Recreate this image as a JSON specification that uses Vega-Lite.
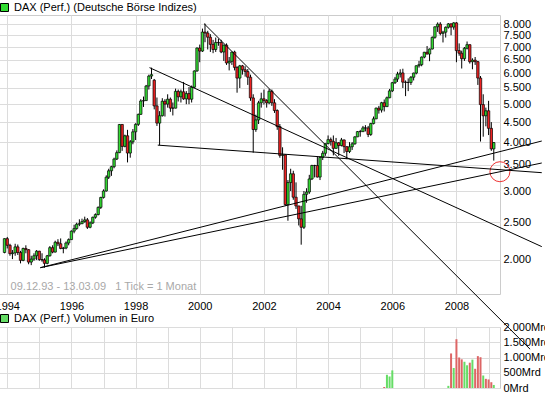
{
  "$schema": "https://vega.github.io/schema/vega-lite/v6.json",
  "padding": {"left": -6, "top": 1, "right": 0, "bottom": 0},
  "spacing": 33,
  "bounds": "flush",
  "config": {
    "font": "Liberation Sans",
    "view": {"stroke": "#cccccc", "strokeWidth": 1, "fill": null},
    "axis": {"gridColor": "#dcdcdc", "gridWidth": 1, "labelFont": "Liberation Sans", "labelFontSize": 11, "labelColor": "#000000", "ticks": false, "tickSize": 0, "domain": false, "labelOverlap": false},
    "legend": {"labelFont": "Liberation Sans", "labelFontSize": 11, "labelColor": "#000000", "labelLimit": 400}
  },
  "datasets": {
    "candles": [
      {"d":"1993-12-01","o":2090,"h":2270,"l":2080,"c":2267,"k":"up"},
      {"d":"1994-01-01","o":2267,"h":2290,"l":2140,"c":2180,"k":"down"},
      {"d":"1994-02-01","o":2180,"h":2200,"l":2050,"c":2075,"k":"down"},
      {"d":"1994-03-01","o":2075,"h":2120,"l":2010,"c":2085,"k":"up"},
      {"d":"1994-04-01","o":2085,"h":2200,"l":2050,"c":2160,"k":"up"},
      {"d":"1994-05-01","o":2160,"h":2190,"l":2060,"c":2090,"k":"down"},
      {"d":"1994-06-01","o":2090,"h":2110,"l":1960,"c":1995,"k":"down"},
      {"d":"1994-07-01","o":1995,"h":2150,"l":1985,"c":2140,"k":"up"},
      {"d":"1994-08-01","o":2140,"h":2180,"l":2080,"c":2125,"k":"down"},
      {"d":"1994-09-01","o":2125,"h":2130,"l":1950,"c":1975,"k":"down"},
      {"d":"1994-10-01","o":1975,"h":2050,"l":1940,"c":2010,"k":"up"},
      {"d":"1994-11-01","o":2010,"h":2080,"l":1990,"c":2050,"k":"up"},
      {"d":"1994-12-01","o":2050,"h":2120,"l":2000,"c":2106,"k":"up"},
      {"d":"1995-01-01","o":2106,"h":2110,"l":1990,"c":2005,"k":"down"},
      {"d":"1995-02-01","o":2005,"h":2080,"l":1980,"c":2000,"k":"down"},
      {"d":"1995-03-01","o":2000,"h":2020,"l":1911,"c":1960,"k":"down"},
      {"d":"1995-04-01","o":1960,"h":2060,"l":1950,"c":2050,"k":"up"},
      {"d":"1995-05-01","o":2050,"h":2170,"l":2040,"c":2150,"k":"up"},
      {"d":"1995-06-01","o":2150,"h":2180,"l":2080,"c":2095,"k":"down"},
      {"d":"1995-07-01","o":2095,"h":2240,"l":2090,"c":2220,"k":"up"},
      {"d":"1995-08-01","o":2220,"h":2260,"l":2170,"c":2200,"k":"down"},
      {"d":"1995-09-01","o":2200,"h":2270,"l":2130,"c":2140,"k":"down"},
      {"d":"1995-10-01","o":2140,"h":2160,"l":2080,"c":2145,"k":"up"},
      {"d":"1995-11-01","o":2145,"h":2230,"l":2130,"c":2210,"k":"up"},
      {"d":"1995-12-01","o":2210,"h":2270,"l":2180,"c":2254,"k":"up"},
      {"d":"1996-01-01","o":2254,"h":2380,"l":2250,"c":2369,"k":"up"},
      {"d":"1996-02-01","o":2369,"h":2460,"l":2340,"c":2405,"k":"up"},
      {"d":"1996-03-01","o":2405,"h":2490,"l":2390,"c":2468,"k":"up"},
      {"d":"1996-04-01","o":2468,"h":2540,"l":2440,"c":2475,"k":"up"},
      {"d":"1996-05-01","o":2475,"h":2550,"l":2470,"c":2506,"k":"up"},
      {"d":"1996-06-01","o":2506,"h":2580,"l":2490,"c":2532,"k":"up"},
      {"d":"1996-07-01","o":2532,"h":2560,"l":2400,"c":2424,"k":"down"},
      {"d":"1996-08-01","o":2424,"h":2510,"l":2410,"c":2487,"k":"up"},
      {"d":"1996-09-01","o":2487,"h":2580,"l":2470,"c":2571,"k":"up"},
      {"d":"1996-10-01","o":2571,"h":2630,"l":2550,"c":2612,"k":"up"},
      {"d":"1996-11-01","o":2612,"h":2740,"l":2600,"c":2725,"k":"up"},
      {"d":"1996-12-01","o":2725,"h":2900,"l":2700,"c":2889,"k":"up"},
      {"d":"1997-01-01","o":2889,"h":3030,"l":2870,"c":3001,"k":"up"},
      {"d":"1997-02-01","o":3001,"h":3290,"l":2990,"c":3255,"k":"up"},
      {"d":"1997-03-01","o":3255,"h":3420,"l":3220,"c":3379,"k":"up"},
      {"d":"1997-04-01","o":3379,"h":3480,"l":3280,"c":3462,"k":"up"},
      {"d":"1997-05-01","o":3462,"h":3650,"l":3430,"c":3621,"k":"up"},
      {"d":"1997-06-01","o":3621,"h":3810,"l":3600,"c":3760,"k":"up"},
      {"d":"1997-07-01","o":3760,"h":4450,"l":3750,"c":4438,"k":"up"},
      {"d":"1997-08-01","o":4438,"h":4440,"l":3800,"c":3901,"k":"down"},
      {"d":"1997-09-01","o":3901,"h":4180,"l":3880,"c":4152,"k":"up"},
      {"d":"1997-10-01","o":4152,"h":4300,"l":3550,"c":3751,"k":"down"},
      {"d":"1997-11-01","o":3751,"h":4050,"l":3650,"c":4007,"k":"up"},
      {"d":"1997-12-01","o":4007,"h":4320,"l":3950,"c":4250,"k":"up"},
      {"d":"1998-01-01","o":4250,"h":4470,"l":4050,"c":4441,"k":"up"},
      {"d":"1998-02-01","o":4441,"h":4730,"l":4400,"c":4710,"k":"up"},
      {"d":"1998-03-01","o":4710,"h":5150,"l":4700,"c":5096,"k":"up"},
      {"d":"1998-04-01","o":5096,"h":5230,"l":4920,"c":5107,"k":"up"},
      {"d":"1998-05-01","o":5107,"h":5600,"l":5100,"c":5565,"k":"up"},
      {"d":"1998-06-01","o":5565,"h":5950,"l":5450,"c":5900,"k":"up"},
      {"d":"1998-07-01","o":5900,"h":6200,"l":5800,"c":5950,"k":"up"},
      {"d":"1998-08-01","o":5760,"h":5800,"l":4850,"c":4950,"k":"down"},
      {"d":"1998-09-01","o":4950,"h":5200,"l":4400,"c":4474,"k":"down"},
      {"d":"1998-10-01","o":4474,"h":4800,"l":3930,"c":4672,"k":"up"},
      {"d":"1998-11-01","o":4672,"h":5180,"l":4650,"c":5087,"k":"up"},
      {"d":"1998-12-01","o":5087,"h":5150,"l":4650,"c":5002,"k":"down"},
      {"d":"1999-01-01","o":5002,"h":5300,"l":4900,"c":5150,"k":"up"},
      {"d":"1999-02-01","o":5150,"h":5200,"l":4780,"c":4887,"k":"down"},
      {"d":"1999-03-01","o":4887,"h":5050,"l":4680,"c":4884,"k":"down"},
      {"d":"1999-04-01","o":4884,"h":5480,"l":4880,"c":5393,"k":"up"},
      {"d":"1999-05-01","o":5393,"h":5450,"l":5080,"c":5221,"k":"down"},
      {"d":"1999-06-01","o":5221,"h":5450,"l":5050,"c":5378,"k":"up"},
      {"d":"1999-07-01","o":5378,"h":5700,"l":5130,"c":5159,"k":"down"},
      {"d":"1999-08-01","o":5159,"h":5400,"l":5000,"c":5322,"k":"up"},
      {"d":"1999-09-01","o":5322,"h":5530,"l":5000,"c":5150,"k":"down"},
      {"d":"1999-10-01","o":5150,"h":5580,"l":5050,"c":5525,"k":"up"},
      {"d":"1999-11-01","o":5525,"h":6100,"l":5500,"c":6080,"k":"up"},
      {"d":"1999-12-01","o":6080,"h":6980,"l":6050,"c":6958,"k":"up"},
      {"d":"2000-01-01","o":6958,"h":7100,"l":6400,"c":6835,"k":"down"},
      {"d":"2000-02-01","o":6835,"h":7800,"l":6800,"c":7644,"k":"up"},
      {"d":"2000-03-01","o":7644,"h":8030,"l":7200,"c":7599,"k":"down"},
      {"d":"2000-04-01","o":7599,"h":7700,"l":6900,"c":7415,"k":"down"},
      {"d":"2000-05-01","o":7415,"h":7550,"l":6800,"c":7109,"k":"down"},
      {"d":"2000-06-01","o":7109,"h":7300,"l":6750,"c":6899,"k":"down"},
      {"d":"2000-07-01","o":6899,"h":7400,"l":6800,"c":7190,"k":"up"},
      {"d":"2000-08-01","o":7190,"h":7350,"l":7050,"c":7186,"k":"down"},
      {"d":"2000-09-01","o":7186,"h":7300,"l":6750,"c":6799,"k":"down"},
      {"d":"2000-10-01","o":6799,"h":7100,"l":6450,"c":7078,"k":"up"},
      {"d":"2000-11-01","o":7078,"h":7150,"l":6300,"c":6372,"k":"down"},
      {"d":"2000-12-01","o":6372,"h":6600,"l":6100,"c":6434,"k":"up"},
      {"d":"2001-01-01","o":6434,"h":6800,"l":6300,"c":6795,"k":"up"},
      {"d":"2001-02-01","o":6795,"h":6850,"l":6100,"c":6208,"k":"down"},
      {"d":"2001-03-01","o":6208,"h":6250,"l":5350,"c":5830,"k":"down"},
      {"d":"2001-04-01","o":5830,"h":6300,"l":5500,"c":6265,"k":"up"},
      {"d":"2001-05-01","o":6265,"h":6300,"l":5950,"c":6123,"k":"down"},
      {"d":"2001-06-01","o":6123,"h":6250,"l":5880,"c":6058,"k":"down"},
      {"d":"2001-07-01","o":6058,"h":6150,"l":5600,"c":5861,"k":"down"},
      {"d":"2001-08-01","o":5861,"h":5950,"l":5100,"c":5188,"k":"down"},
      {"d":"2001-09-01","o":5188,"h":5300,"l":3760,"c":4308,"k":"down"},
      {"d":"2001-10-01","o":4308,"h":4700,"l":4250,"c":4559,"k":"up"},
      {"d":"2001-11-01","o":4559,"h":5100,"l":4450,"c":5040,"k":"up"},
      {"d":"2001-12-01","o":5040,"h":5350,"l":4900,"c":5160,"k":"up"},
      {"d":"2002-01-01","o":5160,"h":5450,"l":4990,"c":5107,"k":"down"},
      {"d":"2002-02-01","o":5107,"h":5150,"l":4900,"c":5039,"k":"down"},
      {"d":"2002-03-01","o":5039,"h":5467,"l":5000,"c":5397,"k":"up"},
      {"d":"2002-04-01","o":5397,"h":5450,"l":4950,"c":5041,"k":"down"},
      {"d":"2002-05-01","o":5041,"h":5150,"l":4750,"c":4818,"k":"down"},
      {"d":"2002-06-01","o":4818,"h":4850,"l":4300,"c":4383,"k":"down"},
      {"d":"2002-07-01","o":4383,"h":4450,"l":3650,"c":3700,"k":"down"},
      {"d":"2002-08-01","o":3700,"h":3880,"l":3400,"c":3712,"k":"up"},
      {"d":"2002-09-01","o":3712,"h":3720,"l":2750,"c":2769,"k":"down"},
      {"d":"2002-10-01","o":2769,"h":3200,"l":2519,"c":3153,"k":"up"},
      {"d":"2002-11-01","o":3153,"h":3420,"l":3000,"c":3320,"k":"up"},
      {"d":"2002-12-01","o":3320,"h":3380,"l":2850,"c":2893,"k":"down"},
      {"d":"2003-01-01","o":2893,"h":3157,"l":2700,"c":2748,"k":"down"},
      {"d":"2003-02-01","o":2748,"h":2750,"l":2450,"c":2547,"k":"down"},
      {"d":"2003-03-01","o":2547,"h":2750,"l":2188,"c":2424,"k":"down"},
      {"d":"2003-04-01","o":2424,"h":3000,"l":2400,"c":2942,"k":"up"},
      {"d":"2003-05-01","o":2942,"h":3050,"l":2800,"c":2983,"k":"up"},
      {"d":"2003-06-01","o":2983,"h":3300,"l":2950,"c":3221,"k":"up"},
      {"d":"2003-07-01","o":3221,"h":3500,"l":3200,"c":3487,"k":"up"},
      {"d":"2003-08-01","o":3487,"h":3500,"l":3250,"c":3485,"k":"down"},
      {"d":"2003-09-01","o":3485,"h":3680,"l":3250,"c":3257,"k":"down"},
      {"d":"2003-10-01","o":3257,"h":3680,"l":3200,"c":3655,"k":"up"},
      {"d":"2003-11-01","o":3655,"h":3800,"l":3600,"c":3746,"k":"up"},
      {"d":"2003-12-01","o":3746,"h":3970,"l":3690,"c":3965,"k":"up"},
      {"d":"2004-01-01","o":3965,"h":4160,"l":3950,"c":4059,"k":"up"},
      {"d":"2004-02-01","o":4059,"h":4110,"l":3920,"c":4018,"k":"down"},
      {"d":"2004-03-01","o":4018,"h":4160,"l":3700,"c":3856,"k":"down"},
      {"d":"2004-04-01","o":3856,"h":4100,"l":3850,"c":3985,"k":"up"},
      {"d":"2004-05-01","o":3985,"h":4000,"l":3690,"c":3921,"k":"down"},
      {"d":"2004-06-01","o":3921,"h":4100,"l":3900,"c":4052,"k":"up"},
      {"d":"2004-07-01","o":4052,"h":4060,"l":3750,"c":3895,"k":"down"},
      {"d":"2004-08-01","o":3895,"h":3900,"l":3620,"c":3785,"k":"down"},
      {"d":"2004-09-01","o":3785,"h":4000,"l":3750,"c":3893,"k":"up"},
      {"d":"2004-10-01","o":3893,"h":4000,"l":3820,"c":3960,"k":"up"},
      {"d":"2004-11-01","o":3960,"h":4140,"l":3940,"c":4126,"k":"up"},
      {"d":"2004-12-01","o":4126,"h":4270,"l":4120,"c":4256,"k":"up"},
      {"d":"2005-01-01","o":4256,"h":4300,"l":4130,"c":4254,"k":"down"},
      {"d":"2005-02-01","o":4254,"h":4400,"l":4250,"c":4350,"k":"up"},
      {"d":"2005-03-01","o":4350,"h":4420,"l":4260,"c":4349,"k":"down"},
      {"d":"2005-04-01","o":4349,"h":4400,"l":4120,"c":4185,"k":"down"},
      {"d":"2005-05-01","o":4185,"h":4480,"l":4150,"c":4461,"k":"up"},
      {"d":"2005-06-01","o":4461,"h":4650,"l":4440,"c":4587,"k":"up"},
      {"d":"2005-07-01","o":4587,"h":4900,"l":4580,"c":4886,"k":"up"},
      {"d":"2005-08-01","o":4886,"h":4950,"l":4730,"c":4830,"k":"down"},
      {"d":"2005-09-01","o":4830,"h":5070,"l":4760,"c":5044,"k":"up"},
      {"d":"2005-10-01","o":5044,"h":5140,"l":4790,"c":4929,"k":"down"},
      {"d":"2005-11-01","o":4929,"h":5230,"l":4920,"c":5193,"k":"up"},
      {"d":"2005-12-01","o":5193,"h":5470,"l":5180,"c":5408,"k":"up"},
      {"d":"2006-01-01","o":5408,"h":5700,"l":5370,"c":5674,"k":"up"},
      {"d":"2006-02-01","o":5674,"h":5870,"l":5630,"c":5796,"k":"up"},
      {"d":"2006-03-01","o":5796,"h":6050,"l":5700,"c":5970,"k":"up"},
      {"d":"2006-04-01","o":5970,"h":6140,"l":5850,"c":6009,"k":"up"},
      {"d":"2006-05-01","o":6009,"h":6160,"l":5500,"c":5692,"k":"down"},
      {"d":"2006-06-01","o":5692,"h":5750,"l":5243,"c":5683,"k":"down"},
      {"d":"2006-07-01","o":5683,"h":5820,"l":5400,"c":5682,"k":"down"},
      {"d":"2006-08-01","o":5682,"h":5900,"l":5600,"c":5859,"k":"up"},
      {"d":"2006-09-01","o":5859,"h":6020,"l":5750,"c":6004,"k":"up"},
      {"d":"2006-10-01","o":6004,"h":6280,"l":5960,"c":6269,"k":"up"},
      {"d":"2006-11-01","o":6269,"h":6450,"l":6200,"c":6309,"k":"up"},
      {"d":"2006-12-01","o":6309,"h":6620,"l":6250,"c":6597,"k":"up"},
      {"d":"2007-01-01","o":6597,"h":6800,"l":6550,"c":6789,"k":"up"},
      {"d":"2007-02-01","o":6789,"h":7040,"l":6700,"c":6716,"k":"down"},
      {"d":"2007-03-01","o":6716,"h":6940,"l":6440,"c":6917,"k":"up"},
      {"d":"2007-04-01","o":6917,"h":7450,"l":6900,"c":7409,"k":"up"},
      {"d":"2007-05-01","o":7409,"h":7900,"l":7350,"c":7883,"k":"up"},
      {"d":"2007-06-01","o":7883,"h":8090,"l":7650,"c":8007,"k":"up"},
      {"d":"2007-07-01","o":8007,"h":8100,"l":7500,"c":7584,"k":"down"},
      {"d":"2007-08-01","o":7584,"h":7700,"l":7190,"c":7638,"k":"up"},
      {"d":"2007-09-01","o":7638,"h":7900,"l":7400,"c":7862,"k":"up"},
      {"d":"2007-10-01","o":7862,"h":8060,"l":7800,"c":8020,"k":"up"},
      {"d":"2007-11-01","o":8020,"h":8050,"l":7500,"c":7871,"k":"down"},
      {"d":"2007-12-01","o":7871,"h":8100,"l":7750,"c":8067,"k":"up"},
      {"d":"2008-01-01","o":8067,"h":8100,"l":6400,"c":6852,"k":"down"},
      {"d":"2008-02-01","o":6852,"h":7150,"l":6650,"c":6748,"k":"down"},
      {"d":"2008-03-01","o":6748,"h":6850,"l":6168,"c":6535,"k":"down"},
      {"d":"2008-04-01","o":6535,"h":7000,"l":6450,"c":6949,"k":"up"},
      {"d":"2008-05-01","o":6949,"h":7230,"l":6900,"c":7097,"k":"up"},
      {"d":"2008-06-01","o":7097,"h":7100,"l":6350,"c":6418,"k":"down"},
      {"d":"2008-07-01","o":6418,"h":6550,"l":6140,"c":6480,"k":"up"},
      {"d":"2008-08-01","o":6480,"h":6600,"l":6300,"c":6422,"k":"down"},
      {"d":"2008-09-01","o":6422,"h":6450,"l":5600,"c":5831,"k":"down"},
      {"d":"2008-10-01","o":5831,"h":5900,"l":4014,"c":4988,"k":"down"},
      {"d":"2008-11-01","o":4988,"h":5300,"l":4130,"c":4670,"k":"down"},
      {"d":"2008-12-01","o":4670,"h":4900,"l":4390,"c":4810,"k":"up"},
      {"d":"2009-01-01","o":4810,"h":5100,"l":4170,"c":4338,"k":"down"},
      {"d":"2009-02-01","o":4338,"h":4500,"l":3800,"c":3844,"k":"down"},
      {"d":"2009-03-01","o":3844,"h":4000,"l":3588,"c":3990,"k":"up"}
    ],
    "lines": [
      {"x1":"1998-07-01","y1":6200,"x2":"2010-06-24","y2":2163},
      {"x1":"1998-10-01","y1":3930,"x2":"2010-06-24","y2":3342},
      {"x1":"2000-03-01","y1":8030,"x2":"2010-02-14","y2":1183},
      {"x1":"1995-03-01","y1":1911,"x2":"2010-06-24","y2":4026},
      {"x1":"1995-03-01","y1":1911,"x2":"2010-06-24","y2":3538}
    ],
    "note": [
      {"d":"1994-02-08","v":1703,"t":"09.12.93 - 13.03.09\u00a0\u00a0\u00a01 Tick = 1 Monat"}
    ],
    "circle": [
      {"d":"2009-05-10","v":3361}
    ],
    "vol": [
      {"d":"2005-10-01","v":33,"k":"down"},
      {"d":"2005-11-01","v":433,"k":"up"},
      {"d":"2005-12-01","v":378,"k":"up"},
      {"d":"2006-01-01","v":578,"k":"up"},
      {"d":"2007-10-01","v":70,"k":"up"},
      {"d":"2007-11-01","v":1133,"k":"down"},
      {"d":"2007-12-01","v":656,"k":"up"},
      {"d":"2008-01-01","v":1600,"k":"down"},
      {"d":"2008-02-01","v":1000,"k":"down"},
      {"d":"2008-03-01","v":940,"k":"down"},
      {"d":"2008-04-01","v":860,"k":"up"},
      {"d":"2008-05-01","v":745,"k":"up"},
      {"d":"2008-06-01","v":830,"k":"down"},
      {"d":"2008-07-01","v":930,"k":"up"},
      {"d":"2008-08-01","v":630,"k":"down"},
      {"d":"2008-09-01","v":1045,"k":"down"},
      {"d":"2008-10-01","v":1010,"k":"down"},
      {"d":"2008-11-01","v":410,"k":"up"},
      {"d":"2008-12-01","v":300,"k":"down"},
      {"d":"2009-01-01","v":280,"k":"down"},
      {"d":"2009-02-01","v":190,"k":"down"},
      {"d":"2009-03-01","v":100,"k":"up"}
    ]
  },
  "vconcat": [
    {
      "width": 501,
      "height": 279,
      "layer": [
        {
          "data": {"name": "candles"},
          "mark": {"type": "rule", "color": "#000000", "strokeWidth": 1},
          "encoding": {
            "x": {"field": "d", "type": "temporal", "title": null,
              "scale": {"type": "utc", "nice": false, "domain": [{"year":1993,"month":11,"date":25,"utc":true},{"year":2009,"month":3,"date":15,"utc":true}]},
              "axis": {"orient": "bottom", "grid": true, "labelPadding": 6, "labelOverlap": false, "labelFlush": false,
                "values": [{"year":1994,"month":1,"date":1,"utc":true},{"year":1995,"month":1,"date":1,"utc":true},{"year":1996,"month":1,"date":1,"utc":true},{"year":1997,"month":1,"date":1,"utc":true},{"year":1998,"month":1,"date":1,"utc":true},{"year":1999,"month":1,"date":1,"utc":true},{"year":2000,"month":1,"date":1,"utc":true},{"year":2001,"month":1,"date":1,"utc":true},{"year":2002,"month":1,"date":1,"utc":true},{"year":2003,"month":1,"date":1,"utc":true},{"year":2004,"month":1,"date":1,"utc":true},{"year":2005,"month":1,"date":1,"utc":true},{"year":2006,"month":1,"date":1,"utc":true},{"year":2007,"month":1,"date":1,"utc":true},{"year":2008,"month":1,"date":1,"utc":true},{"year":2009,"month":1,"date":1,"utc":true}],
                "labelExpr": "utcyear(datum.value) % 2 == 0 ? utcFormat(datum.value, '%Y') : ''"}},
            "y": {"field": "l", "type": "quantitative", "title": null,
              "scale": {"type": "log", "nice": false, "domain": [1637, 8450]},
              "axis": {"orient": "right", "grid": true, "labelPadding": 3, "labelOverlap": false, "values": [2000,2500,3000,3500,4000,4500,5000,5500,6000,6500,7000,7500,8000],
                "labelExpr": "replace(format(datum.value, ','), ',', '.')"}},
            "y2": {"field": "h"}
          }
        },
        {
          "data": {"name": "candles"},
          "mark": {"type": "bar", "size": 2.4, "stroke": "#000000", "strokeWidth": 0.7},
          "encoding": {
            "x": {"field": "d", "type": "temporal", "title": null},
            "y": {"field": "o", "type": "quantitative", "title": null},
            "y2": {"field": "c"},
            "color": {"field": "k", "type": "nominal",
              "scale": {"domain": ["up", "down"], "range": ["#33dd33", "#ee2222"]},
              "legend": {"orient": "none", "legendX": 0, "legendY": -13, "title": null, "values": ["up"],
                "labelExpr": "'DAX (Perf.) (Deutsche Börse Indizes)'", "symbolType": "square", "symbolSize": 64,
                "symbolStrokeColor": "#000000", "symbolStrokeWidth": 1, "symbolOpacity": 1, "labelOffset": 4, "labelLimit": 400}}
          }
        },
        {
          "data": {"name": "circle"},
          "mark": {"type": "point", "shape": "circle", "size": 400, "filled": false, "stroke": "#ee3333", "strokeWidth": 1, "opacity": 1},
          "encoding": {
            "x": {"field": "d", "type": "temporal", "title": null},
            "y": {"field": "v", "type": "quantitative", "title": null}
          }
        },
        {
          "data": {"name": "note"},
          "mark": {"type": "text", "align": "left", "baseline": "middle", "color": "#a8a8a8", "fontSize": 11, "font": "Liberation Sans"},
          "encoding": {
            "x": {"field": "d", "type": "temporal", "title": null},
            "y": {"field": "v", "type": "quantitative", "title": null},
            "text": {"field": "t"}
          }
        }
      ]
    },
    {
      "width": 501,
      "height": 61,
      "layer": [
        {
          "data": {"name": "vol"},
          "mark": {"type": "bar", "size": 2},
          "encoding": {
            "x": {"field": "d", "type": "temporal", "title": null,
              "scale": {"type": "utc", "nice": false, "domain": [{"year":1993,"month":11,"date":25,"utc":true},{"year":2009,"month":3,"date":15,"utc":true}]},
              "axis": {"orient": "bottom", "grid": true, "labels": false,
                "values": [{"year":1994,"month":1,"date":1,"utc":true},{"year":1995,"month":1,"date":1,"utc":true},{"year":1996,"month":1,"date":1,"utc":true},{"year":1997,"month":1,"date":1,"utc":true},{"year":1998,"month":1,"date":1,"utc":true},{"year":1999,"month":1,"date":1,"utc":true},{"year":2000,"month":1,"date":1,"utc":true},{"year":2001,"month":1,"date":1,"utc":true},{"year":2002,"month":1,"date":1,"utc":true},{"year":2003,"month":1,"date":1,"utc":true},{"year":2004,"month":1,"date":1,"utc":true},{"year":2005,"month":1,"date":1,"utc":true},{"year":2006,"month":1,"date":1,"utc":true},{"year":2007,"month":1,"date":1,"utc":true},{"year":2008,"month":1,"date":1,"utc":true},{"year":2009,"month":1,"date":1,"utc":true}]}},
            "y": {"field": "v", "type": "quantitative", "title": null,
              "scale": {"domain": [0, 2000], "nice": false},
              "axis": {"orient": "right", "grid": true, "labelPadding": 3, "values": [0, 500, 1000, 1500, 2000],
                "labelExpr": "replace(format(datum.value, ','), ',', '.') + 'Mrd'"}},
            "color": {"field": "k", "type": "nominal",
              "scale": {"domain": ["up", "down"], "range": ["#66dd66", "#dd6666"]},
              "legend": {"orient": "none", "legendX": 0, "legendY": -14, "title": null, "values": ["up"],
                "labelExpr": "'DAX (Perf.) Volumen in Euro'", "symbolType": "square", "symbolSize": 64,
                "symbolStrokeColor": "#000000", "symbolStrokeWidth": 1, "symbolOpacity": 1, "labelOffset": 4, "labelLimit": 400}}
          }
        }
      ]
    },
    {
      "width": 501,
      "height": 1,
      "view": {"stroke": null, "fill": null},
      "layer": [
        {
          "data": {"name": "lines"},
          "mark": {"type": "rule", "color": "#000000", "strokeWidth": 1},
          "encoding": {
            "x": {"field": "x1", "type": "temporal", "title": null, "axis": null,
              "scale": {"type": "utc", "nice": false, "domain": [{"year":1993,"month":11,"date":25,"utc":true},{"year":2009,"month":3,"date":15,"utc":true}]}},
            "x2": {"field": "x2"},
            "y": {"field": "y1", "type": "quantitative", "title": null, "axis": null,
              "scale": {"type": "log", "nice": false, "domain": [1637, 8450], "range": [-127, -406]}},
            "y2": {"field": "y2"}
          }
        }
      ]
    }
  ],
  "resolve": {"scale": {"color": "independent", "x": "independent", "y": "independent"}, "legend": {"color": "independent"}}
}
